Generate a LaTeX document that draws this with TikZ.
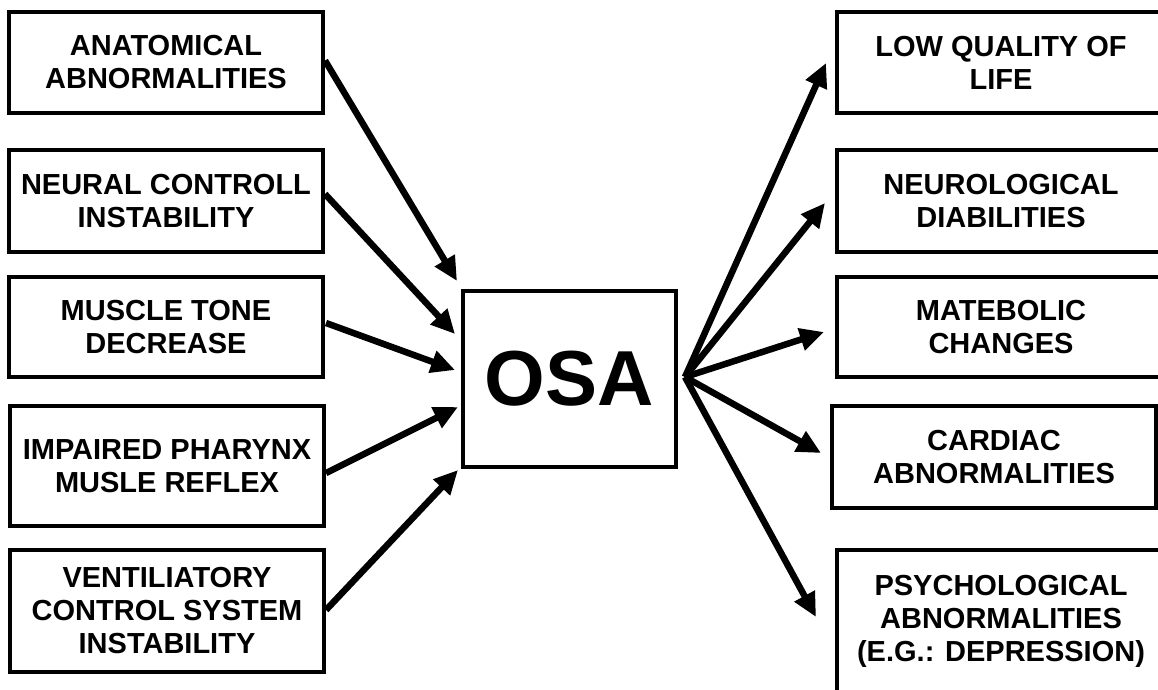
\documentclass[tikz,border=0pt]{standalone}
\usepackage{fontspec}
\setmainfont{Liberation Sans}
\usetikzlibrary{arrows.meta,calc}
\begin{document}
\begin{tikzpicture}[x=1pt,y=-1pt,
  box/.style={draw, line width=4pt, align=center, inner sep=0pt,
    font=\bfseries\fontsize{29}{33}\selectfont},
  lbox/.style={box, minimum width=314pt},
  rbox/.style={box, minimum width=328pt},
  conn/.style={line width=6.5pt, -{Triangle[length=24pt,width=22pt]}}]
\useasboundingbox (0,0) rectangle (1158,689);
\clip (0,0) rectangle (1158,689);
\fill[white] (0,0) rectangle (1158,689);
% left causes
\node[lbox, minimum height=101pt] (l1) at (166,62.5) {ANATOMICAL\\ABNORMALITIES};
\node[lbox, minimum height=102pt] (l2) at (166,201) {NEURAL CONTROLL\\INSTABILITY};
\node[lbox, minimum height=100pt] (l3) at (166,327) {MUSCLE TONE\\DECREASE};
\node[lbox, minimum height=120pt] (l4) at (167,466) {IMPAIRED PHARYNX\\MUSLE REFLEX};
\node[lbox, minimum height=122pt] (l5) at (167,611) {VENTILIATORY\\CONTROL SYSTEM\\INSTABILITY};
% centre
\node[draw, line width=4pt, inner sep=0pt, minimum width=213pt, minimum height=176pt,
  font=\bfseries\fontsize{78}{80}\selectfont] (osa) at (569.5,379) {OSA};
% right consequences
\node[rbox, minimum height=101pt] (r1) at (1001,62.5) {LOW QUALITY OF\\LIFE};
\node[rbox, minimum height=102pt] (r2) at (1001,201) {NEUROLOGICAL\\DIABILITIES};
\node[rbox, minimum height=100pt] (r3) at (1001,327) {MATEBOLIC\\CHANGES};
\node[box, minimum width=324pt, minimum height=102pt] (r4) at (994,457) {CARDIAC\\ABNORMALITIES};
\node[rbox, minimum height=142pt] (r5) at (1001,621) {PSYCHOLOGICAL\\ABNORMALITIES\\(E.G.: DEPRESSION)};
\coordinate (hub) at ($(osa.east)+(7,-2)$);
% left arrows
\draw[conn] ($(l1.east)+(0,-2)$) -- ($(osa.north west)+(-4,-8)$);
\draw[conn] ($(l2.east)+(0,-7)$) -- ($(osa.west)+(-6,-45)$);
\draw[conn] ($(l3.east)+(1,-4)$) -- ($(osa.west)+(-6,-9)$);
\draw[conn] ($(l4.east)+(0,7)$) -- ($(osa.west)+(-3,28)$);
\draw[conn] ($(l5.east)+(0,-1)$) -- ($(osa.south west)+(-3,1)$);
% right arrows
\draw[conn] (hub) -- ($(r1.west)+(-9,0.5)$);
\draw[conn] (hub) -- ($(r2.west)+(-10,2)$);
\draw[conn] (hub) -- ($(r3.west)+(-11,5)$);
\draw[conn] (hub) -- ($(r4.west)+(-9,-4)$);
\draw[conn] (hub) -- ($(r5.west)+(-19,-4)$);
\end{tikzpicture}
\end{document}
